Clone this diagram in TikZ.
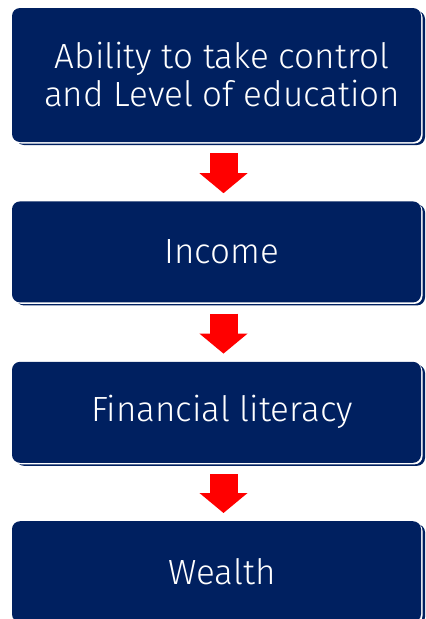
\documentclass[tikz,border=0pt]{standalone}
\usepackage{fontspec}
\setmainfont{Fira Sans Light}
\usetikzlibrary{positioning,arrows.meta}

\definecolor{navy}{RGB}{0,32,96}
\definecolor{arrowred}{RGB}{255,0,0}

\tikzset{
  stage/.style={text=white, rounded corners=8pt,
    minimum width=409pt, inner sep=0pt, align=center,
    font=\fontsize{35}{38}\selectfont,
    preaction={fill=navy, transform canvas={shift={(-1.5pt,-3pt)}}},
    preaction={fill=white, transform canvas={shift={(-4pt,-1.5pt)}}},
    preaction={fill=navy, transform canvas={shift={(-5.5pt,0pt)}}}},
  blockarrow/.style={arrowred, line width=28pt, shorten <=11pt, shorten >=8pt,
    -{Triangle[width=47pt,length=20pt]}}
}

\begin{document}
\begin{tikzpicture}[x=1pt,y=1pt]
  \useasboundingbox (0,0) rectangle (426,-619);

  \node[stage, minimum height=134pt] (control) at (222,-75)
    {Ability to take control\\and Level of education};
  \node[stage, minimum height=101pt, below=59pt of control] (income) {Income};
  \node[stage, minimum height=101pt, below=59pt of income] (literacy) {Financial literacy};
  \node[stage, minimum height=101pt, below=58pt of literacy] (wealth) {Wealth};

  % arrows between the stages
  \draw[blockarrow] ([xshift=1.5pt]control.south) -- ([xshift=1.5pt]income.north);
  \draw[blockarrow] ([xshift=1.5pt]income.south) -- ([xshift=1.5pt]literacy.north);
  \draw[blockarrow] ([xshift=1.5pt]literacy.south) -- ([xshift=1.5pt]wealth.north);

\end{tikzpicture}
\end{document}
